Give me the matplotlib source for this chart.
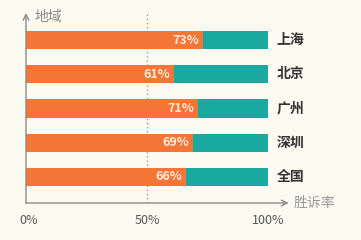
import matplotlib.pyplot as plt

plt.rcParams['font.family'] = ['Noto Sans CJK SC', 'DejaVu Sans']

# win rate by region
regions = ['上海', '北京', '广州', '深圳', '全国']
win_rate = [73, 61, 71, 69, 66]
tick_pos = [0, 50, 100]
tick_labels = ['0%', '50%', '100%']

orange = '#F47536'
teal = '#19A9A1'
bg = '#FCFBF1'
gray = '#8A8A8A'

fig = plt.figure(figsize=(3.61, 2.4), dpi=100, facecolor=bg)
ax = fig.add_axes([26 / 361, 37 / 240, 242 / 361, 190 / 240])
ax.set_facecolor(bg)

ypos = list(range(len(regions)))
rest = [100 - v for v in win_rate]
ax.barh(ypos, win_rate, height=0.53, color=orange, zorder=2)
ax.barh(ypos, rest, left=win_rate, height=0.53, color=teal, zorder=2)

for y, v, name in zip(ypos, win_rate, regions):
    ax.text(v - 1.5, y, f'{v}%', ha='right', va='center', color='#FCEBDD',
            fontsize=9, fontweight='bold', zorder=3)
    ax.text(103.5, y, name, ha='left', va='center', color='#333333',
            fontsize=10, fontweight='bold', clip_on=False)

ax.axvline(50, color='#9A9A9A', linestyle=(0, (1, 2)), linewidth=1, zorder=1)

ax.set_xlim(0, 100)
ax.set_ylim(len(regions) - 0.24, -0.79)
ax.set_xticks([])
ax.set_yticks([])
for s in ax.spines.values():
    s.set_visible(False)

# axis arrows
ax.annotate('', xy=(0, 1.0), xytext=(0, 0), xycoords='axes fraction',
            arrowprops=dict(arrowstyle='->', color=gray, lw=1, shrinkA=0, shrinkB=0))
ax.annotate('', xy=(1.085, 0), xytext=(0, 0), xycoords='axes fraction',
            arrowprops=dict(arrowstyle='->', color=gray, lw=1, shrinkA=0, shrinkB=0))
ax.text(0.035, 0.98, '地域', transform=ax.transAxes, ha='left', va='center',
        color='#888888', fontsize=10)
ax.text(1.105, 0.0, '胜诉率', transform=ax.transAxes, ha='left', va='center',
        color='#999999', fontsize=10, clip_on=False)

for x, lab in zip(tick_pos, tick_labels):
    ax.text(x + (1 if x == 0 else 0), len(regions) + 0.27,
            lab, ha='center', va='center', color='#555555', fontsize=9, clip_on=False)

fig.savefig('out.png', dpi=100, facecolor=bg)
